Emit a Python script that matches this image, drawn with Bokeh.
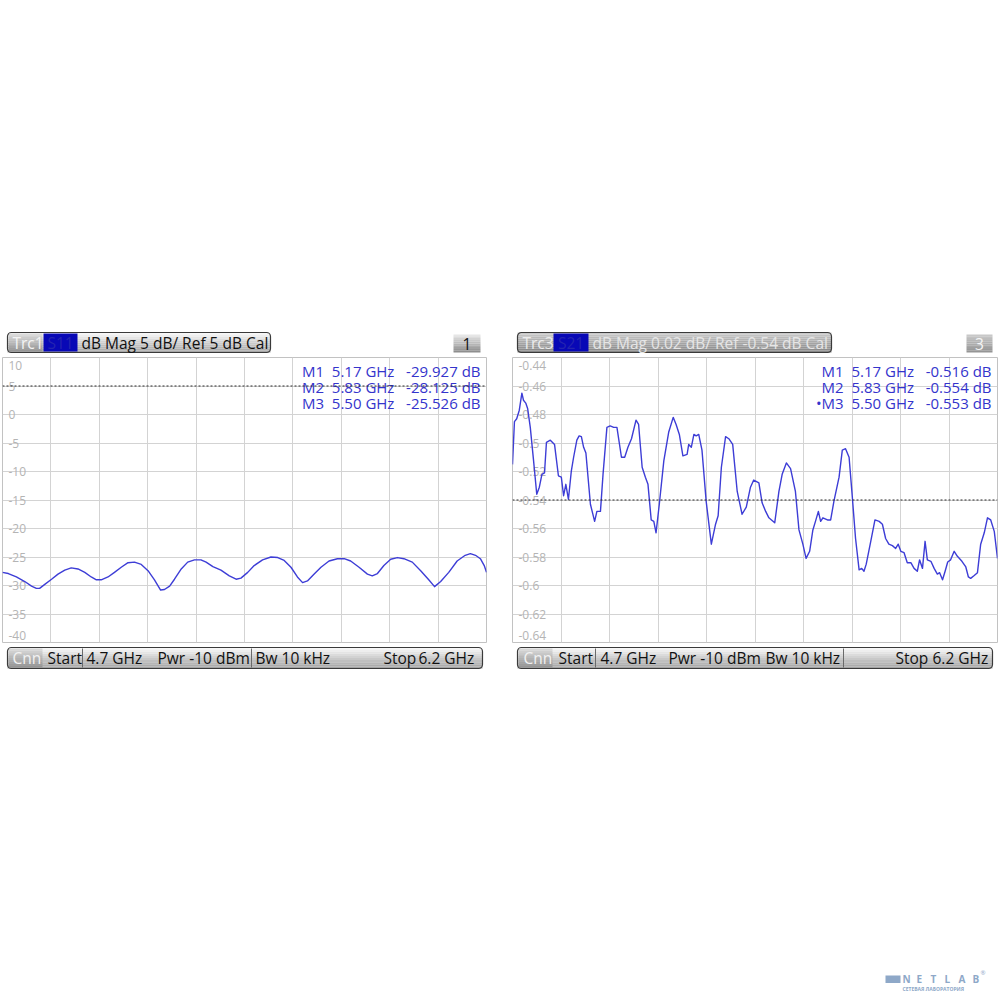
from bokeh.plotting import figure
from bokeh.models import Range1d, FixedTicker, Span, Spacer, Quad
from bokeh.layouts import column, row
from bokeh.core.properties import value
from bokeh.embed import file_html
from bokeh.resources import INLINE

FONT = value("Open Sans")

# ---------------- data ----------------
freq_start_ghz = 4.7
freq_stop_ghz = 6.2
freq_ticks_ghz = [4.7, 4.85, 5.0, 5.15, 5.3, 5.45, 5.6, 5.75, 5.9, 6.05, 6.2]

s11_yticks = [10, 5, 0, -5, -10, -15, -20, -25, -30, -35, -40]
s11_ylabels = ["10", "5", "0", "-5", "-10", "-15", "-20", "-25", "-30", "-35", "-40"]
s11_ref_db = 5
s11_freq_ghz = [4.700, 4.718, 4.743, 4.769, 4.790, 4.805, 4.815, 4.831, 4.852, 4.872,
                4.893, 4.913, 4.934, 4.955, 4.975, 4.991, 5.006, 5.027, 5.047, 5.068,
                5.089, 5.109, 5.130, 5.151, 5.171, 5.190, 5.202, 5.218, 5.233, 5.254,
                5.274, 5.295, 5.315, 5.331, 5.352, 5.377, 5.403, 5.424, 5.439, 5.460,
                5.480, 5.506, 5.532, 5.553, 5.573, 5.594, 5.614, 5.630, 5.645, 5.666,
                5.687, 5.712, 5.738, 5.759, 5.779, 5.805, 5.831, 5.846, 5.862, 5.882,
                5.903, 5.924, 5.944, 5.970, 5.996, 6.021, 6.039, 6.058, 6.083, 6.109,
                6.134, 6.150, 6.166, 6.181, 6.193, 6.200]
s11_db = [-27.7, -27.9, -28.5, -29.3, -30.1, -30.5, -30.5, -29.8, -28.9, -28.0,
          -27.3, -26.9, -27.1, -27.7, -28.5, -29.0, -29.0, -28.5, -27.7, -26.8,
          -26.0, -25.9, -26.3, -27.4, -29.0, -30.8, -30.7, -30.1, -28.9, -27.1,
          -25.9, -25.5, -25.5, -25.9, -26.7, -27.3, -28.3, -28.9, -28.7, -27.7,
          -26.5, -25.5, -25.0, -25.1, -25.6, -26.8, -28.5, -29.5, -29.2, -28.0,
          -26.8, -25.7, -25.3, -25.3, -25.7, -26.8, -28.0, -28.3, -27.9, -26.5,
          -25.4, -25.1, -25.3, -25.9, -27.4, -29.0, -30.2, -29.3, -27.7, -25.7,
          -24.7, -24.4, -24.7, -25.3, -26.5, -27.7]

s21_yticks = [-0.44, -0.46, -0.48, -0.50, -0.52, -0.54, -0.56, -0.58, -0.60, -0.62, -0.64]
s21_ylabels = ["-0.44", "-0.46", "-0.48", "-0.5", "-0.52", "-0.54", "-0.56", "-0.58", "-0.6", "-0.62", "-0.64"]
s21_ref_db = -0.54
s21_freq_ghz = [4.700, 4.706, 4.713, 4.721, 4.729, 4.734, 4.741, 4.747, 4.755, 4.765,
                4.775, 4.783, 4.791, 4.799, 4.805, 4.817, 4.830, 4.842, 4.851, 4.858,
                4.865, 4.873, 4.882, 4.889, 4.899, 4.906, 4.913, 4.920, 4.927, 4.941,
                4.954, 4.961, 4.972, 4.980, 4.992, 5.002, 5.013, 5.023, 5.037, 5.047,
                5.057, 5.068, 5.082, 5.090, 5.101, 5.111, 5.119, 5.129, 5.137, 5.144,
                5.154, 5.168, 5.183, 5.197, 5.206, 5.216, 5.227, 5.240, 5.245, 5.253,
                5.261, 5.268, 5.276, 5.286, 5.299, 5.315, 5.328, 5.336, 5.346, 5.359,
                5.369, 5.381, 5.395, 5.410, 5.423, 5.436, 5.446, 5.462, 5.472, 5.483,
                5.493, 5.501, 5.511, 5.524, 5.534, 5.547, 5.560, 5.575, 5.586, 5.598,
                5.608, 5.619, 5.629, 5.637, 5.646, 5.653, 5.660, 5.674, 5.684, 5.694,
                5.710, 5.720, 5.730, 5.741, 5.751, 5.761, 5.772, 5.780, 5.787, 5.794,
                5.808, 5.821, 5.834, 5.844, 5.854, 5.864, 5.875, 5.885, 5.893, 5.901,
                5.911, 5.921, 5.932, 5.942, 5.952, 5.959, 5.968, 5.976, 5.983, 5.994,
                6.004, 6.014, 6.021, 6.030, 6.038, 6.046, 6.055, 6.066, 6.076, 6.090,
                6.102, 6.110, 6.117, 6.128, 6.138, 6.148, 6.159, 6.169, 6.179, 6.190,
                6.200]
s21_db = [-0.515, -0.485, -0.483, -0.477, -0.465, -0.470, -0.472, -0.476, -0.489, -0.512,
          -0.536, -0.531, -0.522, -0.521, -0.4995, -0.498, -0.501, -0.523, -0.524, -0.537,
          -0.529, -0.5395, -0.5195, -0.510, -0.498, -0.495, -0.4955, -0.503, -0.507, -0.543,
          -0.555, -0.548, -0.548, -0.522, -0.489, -0.488, -0.489, -0.489, -0.510, -0.510,
          -0.503, -0.497, -0.484, -0.487, -0.517, -0.524, -0.529, -0.554, -0.555, -0.563,
          -0.543, -0.5125, -0.4925, -0.482, -0.487, -0.494, -0.509, -0.508, -0.501, -0.503,
          -0.494, -0.495, -0.494, -0.505, -0.541, -0.571, -0.557, -0.551, -0.517, -0.4955,
          -0.497, -0.501, -0.534, -0.550, -0.545, -0.531, -0.526, -0.528, -0.542, -0.548,
          -0.5525, -0.554, -0.556, -0.534, -0.522, -0.514, -0.518, -0.534, -0.561, -0.571,
          -0.581, -0.576, -0.561, -0.555, -0.548, -0.555, -0.5525, -0.554, -0.554, -0.541,
          -0.524, -0.505, -0.504, -0.510, -0.538, -0.567, -0.589, -0.588, -0.590, -0.585,
          -0.569, -0.554, -0.555, -0.557, -0.567, -0.571, -0.572, -0.574, -0.571, -0.576,
          -0.577, -0.584, -0.584, -0.588, -0.590, -0.582, -0.588, -0.569, -0.582, -0.583,
          -0.588, -0.592, -0.591, -0.596, -0.590, -0.5835, -0.582, -0.576, -0.5795, -0.583,
          -0.587, -0.594, -0.595, -0.593, -0.591, -0.571, -0.563, -0.5525, -0.554, -0.562,
          -0.581]

marker_freqs_ghz = ["5.17", "5.83", "5.50"]
s11_marker_names = ["M1", "M2", "M3"]
s11_marker_db = ["-29.927", "-28.125", "-25.526"]
s21_marker_names = ["M1", "M2", "\u2022M3"]
s21_marker_db = ["-0.516", "-0.554", "-0.553"]

s11_header = "dB Mag 5 dB/ Ref 5 dB Cal"
s21_header = "dB Mag 0.02 dB/ Ref -0.54 dB Cal"
power_text = "Pwr -10 dBm"
bw_text = "Bw 10 kHz"

# ---------------- helpers ----------------
RADIUS = {"border_radius": 4} if "border_radius" in Quad.properties() else {}
TRACE = "#3d3dd6"
MARK = "#3434cc"
NB = "\u00a0"


def mix(c1, c2, t):
    a = [int(c1[i:i + 2], 16) for i in (1, 3, 5)]
    b = [int(c2[i:i + 2], 16) for i in (1, 3, 5)]
    return "#%02x%02x%02x" % tuple(round(a[k] + (b[k] - a[k]) * t) for k in range(3))


def gradient_box(p, x0, x1, y0, y1, c_top, c_bot, outline=None, n=10, rounded=False):
    h = (y1 - y0) / n
    p.quad(left=[x0] * n, right=[x1] * n,
           top=[y0 + i * h for i in range(n)], bottom=[y0 + (i + 1) * h for i in range(n)],
           fill_color=[mix(c_top, c_bot, i / (n - 1)) for i in range(n)], line_color=None)
    if outline:
        kw = RADIUS if rounded else {}
        p.quad(left=[x0], right=[x1], top=[y0], bottom=[y1], fill_color=None,
               line_color=outline, line_width=1.2, **kw)


def label(p, x, y, txt, color="#111111", size="15.5px", align="left", style="normal"):
    p.text(x=[x], y=[y], text=[txt], text_font=FONT, text_font_size=size,
           text_color=color, text_align=align, text_baseline="middle", text_font_style=style)


def strip(height, ytop):
    p = figure(width=998, height=height, x_range=Range1d(0, 998),
               y_range=Range1d(ytop + height, ytop), x_axis_location=None,
               y_axis_location=None, toolbar_location=None, output_backend="svg",
               min_border=0, min_border_left=0, min_border_right=0,
               min_border_top=0, min_border_bottom=0)
    p.grid.visible = False
    p.outline_line_color = None
    p.background_fill_color = "white"
    p.border_fill_color = "white"
    return p


def make_panel(width, mb_left, mb_right, freqs, vals, yticks, ylabels, ref, mnames, mvals):
    ylo, yhi = min(yticks), max(yticks)
    p = figure(width=width, height=290, x_range=Range1d(freq_start_ghz, freq_stop_ghz),
               y_range=Range1d(ylo, yhi), x_axis_location=None, y_axis_location=None,
               toolbar_location=None, output_backend="svg", min_border=0,
               min_border_left=mb_left, min_border_right=mb_right,
               min_border_top=1, min_border_bottom=4)
    p.outline_line_color = "#c2c2c2"
    p.background_fill_color = "white"
    p.border_fill_color = "white"
    p.xgrid.ticker = FixedTicker(ticks=freq_ticks_ghz)
    p.ygrid.ticker = FixedTicker(ticks=yticks)
    p.grid.grid_line_color = "#d3d3d3"
    p.grid.grid_line_width = 1
    offs = [8 if t == yhi else (-7 if t == ylo else 0) for t in yticks]
    p.text(x=[freq_start_ghz] * len(yticks), y=yticks, text=ylabels, x_offset=6,
           y_offset=offs, text_font=FONT, text_font_size="12px", text_color="#b4b4b4",
           text_align="left", text_baseline="middle")
    p.add_layout(Span(location=ref, dimension="width", line_color="#2a2a2a",
                      line_dash="2 2", line_width=1))
    p.line(freqs, vals, line_color=TRACE, line_width=1.4, line_join="round")
    lines = [f"{n}{NB * 2}{f} GHz{NB * 3}{v} dB" for n, f, v in zip(mnames, marker_freqs_ghz, mvals)]
    p.text(x=[freq_stop_ghz] * len(lines), y=[yhi] * len(lines), text=lines,
           x_offset=-6, y_offset=[13, 29, 45], text_font=FONT, text_font_size="15px",
           text_color=MARK, text_align="right", text_baseline="middle")
    return p


# ---------------- header strip (page y 328..356) ----------------
hp = strip(28, 328)
# left header
gradient_box(hp, 7, 270, 332, 352, "#f7f7f7", "#a6a6a6", outline="#3a3a3a", rounded=True)
gradient_box(hp, 8.5, 42, 333, 351, "#dadada", "#979797")
hp.quad(left=[43], right=[77], top=[333], bottom=[351], fill_color="#0808b6", line_color=None)
label(hp, 12, 342, "Trc1", color="#f4f4f4")
label(hp, 60, 342, "S11", color="#2424b0", align="center")
label(hp, 81, 342, s11_header)
gradient_box(hp, 453, 480, 334, 352, "#e6e6e6", "#8e8e8e")
label(hp, 466.5, 343, "1", align="center")
# right header
gradient_box(hp, 517, 831, 332, 352, "#c9c9c9", "#868686", outline="#3a3a3a", rounded=True)
hp.quad(left=[553], right=[588], top=[333], bottom=[351], fill_color="#0808b6", line_color=None)
label(hp, 522, 342, "Trc3", color="#ededed")
label(hp, 570.5, 342, "S21", color="#2424b0", align="center")
label(hp, 592, 342, s21_header, color="#e6e6e6")
gradient_box(hp, 966, 992, 334, 352, "#c8c8c8", "#959595")
label(hp, 979, 343, "3", color="#f6f6f6", align="center")

# ---------------- plots (page y 356..646) ----------------
left = make_panel(494, 2, 8, s11_freq_ghz, s11_db, s11_yticks, s11_ylabels, s11_ref_db,
                  s11_marker_names, s11_marker_db)
right = make_panel(504, 18, 1, s21_freq_ghz, s21_db, s21_yticks, s21_ylabels, s21_ref_db,
                   s21_marker_names, s21_marker_db)

# ---------------- footer strip (page y 646..672) ----------------
fp = strip(26, 646)
start_txt = f"{freq_start_ghz} GHz"
stop_txt = f"{freq_stop_ghz} GHz"
for (x0, x1, xs) in [(7, 482, [12, 47, 86, 157, 255, 383, 418]),
                     (517, 992, [523, 558, 600, 668, 765, 895, 932])]:
    gradient_box(fp, x0, x1, 647, 668, "#f7f7f7", "#a3a3a3", outline="#3a3a3a", rounded=True)
    gradient_box(fp, x0 + 1.5, x0 + 35, 648, 667, "#d6d6d6", "#959595")
    label(fp, xs[0], 657.5, "Cnn", color="#f2f2f2")
    label(fp, xs[1], 657.5, "Start")
    label(fp, xs[2], 657.5, start_txt)
    label(fp, xs[3], 657.5, power_text)
    label(fp, xs[4], 657.5, bw_text)
    label(fp, xs[5], 657.5, "Stop")
    label(fp, xs[6], 657.5, stop_txt)
fp.segment(x0=[82, 251, 595, 843], y0=[648] * 4, x1=[82, 251, 595, 843], y1=[667] * 4,
           line_color="#6a6a6a", line_width=1)

# ---------------- logo strip (page y 968..992) ----------------
lp = strip(24, 968)
LOGO = "#8ea8c8"
lp.quad(left=[885], right=[900], top=[975], bottom=[982.5], fill_color=LOGO, line_color=None)
for i, ch in enumerate("NETLAB"):
    label(lp, 902 + i * 14, 978.8, ch, color=LOGO, size="10px", style="bold")
label(lp, 980, 972, "\u00ae", color=LOGO, size="6px")
label(lp, 902, 988.5, "СЕТЕВАЯ ЛАБОРАТОРИЯ", color=LOGO, size="5px", style="bold")

layout = column(
    Spacer(width=998, height=328),
    hp,
    row(left, right),
    fp,
    Spacer(width=998, height=296),
    lp,
)

open("out.html", "w").write(file_html(layout, INLINE))
